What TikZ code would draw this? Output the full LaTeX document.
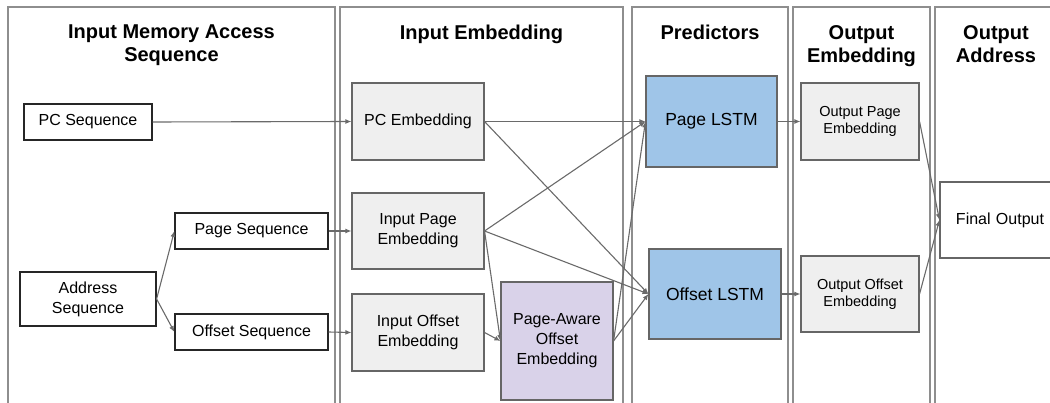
\documentclass[tikz,border=0pt]{standalone}
\usepackage{fontspec}
\setmainfont{Liberation Sans}
\usetikzlibrary{arrows.meta}
\definecolor{panelgray}{HTML}{8E8E8E}
\definecolor{linegray}{HTML}{6A6A6A}
\definecolor{boxgray}{HTML}{EFEFEF}
\definecolor{boxedge}{HTML}{666666}
\definecolor{lstmblue}{HTML}{9FC5E8}
\definecolor{awarepurple}{HTML}{D9D2E9}
\tikzset{
  panel/.style={draw=panelgray, line width=1.3pt},
  title/.style={anchor=north, inner sep=0pt, align=center,
    font=\fontsize{20}{23}\selectfont\bfseries},
  basebox/.style={rectangle, inner sep=0pt, align=center,
    font=\fontsize{16}{20}\selectfont},
  seqbox/.style={basebox, draw=black!85, line width=1.2pt, fill=white},
  embbox/.style={basebox, draw=boxedge, line width=1.1pt, fill=boxgray},
  outbox/.style={embbox, font=\fontsize{14.5}{17}\selectfont},
  lstmbox/.style={basebox, draw=boxedge, line width=1.1pt, fill=lstmblue,
    font=\fontsize{17.5}{21}\selectfont},
  awarebox/.style={basebox, draw=boxedge, line width=1.1pt, fill=awarepurple},
  link/.style={draw=linegray, line width=1.1pt,
    -{Latex[length=6pt,width=5pt]}},
}
\begin{document}
\begin{tikzpicture}[x=1pt, y=-1pt]
\useasboundingbox (0,0) rectangle (1050,403);
\clip (0,0) rectangle (1050,403);

% column frames (they run past the lower edge)
\draw[panel] (8,7) rectangle (335,430);
\draw[panel] (340,7) rectangle (623,430);
\draw[panel] (632,7) rectangle (788,430);
\draw[panel] (793,7) rectangle (930,430);
\draw[panel] (935,7) rectangle (1058,430);

% column headings
\node[title] (t1) at (171.5,25) {Input Memory Access\\Sequence};
\node[title] (t2) at (481.5,25) {Input Embedding};
\node[title] (t3) at (710,25) {Predictors};
\node[title] (t4) at (861.5,25) {Output\\Embedding};
\node[title] (t5) at (996,25) {Output\\Address};

% input sequences
\node[seqbox, minimum width=128pt, minimum height=36pt] (pcseq) at (88,122) {PC Sequence};
\node[seqbox, minimum width=136pt, minimum height=54pt] (addr) at (88,299) {Address\\Sequence};
\node[seqbox, minimum width=153pt, minimum height=36pt] (pageseq) at (251.5,231) {Page Sequence};
\node[seqbox, minimum width=153pt, minimum height=36pt] (offseq) at (251.5,332) {Offset Sequence};

% input embeddings
\node[embbox, minimum width=132pt, minimum height=77pt] (pcemb) at (418,121.5) {PC Embedding};
\node[embbox, minimum width=132pt, minimum height=76pt] (inpage) at (418,231) {Input Page\\Embedding};
\node[embbox, minimum width=132pt, minimum height=77pt] (inoff) at (418,332.5) {Input Offset\\Embedding};
\node[awarebox, minimum width=112pt, minimum height=118pt] (aware) at (557,341) {Page-Aware\\Offset\\Embedding};

% predictors
\node[lstmbox, minimum width=131pt, minimum height=91pt] (pagelstm) at (711.5,121.5) {Page LSTM};
\node[lstmbox, minimum width=132pt, minimum height=90pt] (offlstm) at (715,294) {Offset LSTM};

% output embeddings
\node[outbox, minimum width=118pt, minimum height=77pt] (outpage) at (860,121.5) {Output Page\\Embedding};
\node[outbox, minimum width=118pt, minimum height=76pt] (outoff) at (860,294) {Output Offset\\Embedding};

% final address
\node[basebox, draw=boxedge, line width=1.1pt, fill=white,
      minimum width=120pt, minimum height=76pt, text width=120pt] (final) at (1000,220) {Final Output};

% connectors
\draw[link] (pcseq.east) -- (pcemb.west);
\draw[link] (addr.east) -- (pageseq.west);
\draw[link] (addr.east) -- (offseq.west);
\draw[link] (pageseq.east) -- (inpage.west);
\draw[link] (offseq.east) -- (inoff.west);

\draw[link] (pcemb.east) -- (pagelstm.west);
\draw[link] (pcemb.east) -- (offlstm.west);
\draw[link] (inpage.east) -- (pagelstm.west);
\draw[link] (inpage.east) -- (offlstm.west);
\draw[link] (inpage.east) -- (aware.west);
\draw[link] (inoff.east) -- (aware.west);
\draw[link] (aware.east) -- (pagelstm.west);
\draw[link] (aware.east) -- (offlstm.west);

\draw[link] (pagelstm.east) -- (outpage.west);
\draw[link] (offlstm.east) -- (outoff.west);
\draw[link] (outpage.east) -- (final.west);
\draw[link] (outoff.east) -- (final.west);
\end{tikzpicture}
\end{document}
